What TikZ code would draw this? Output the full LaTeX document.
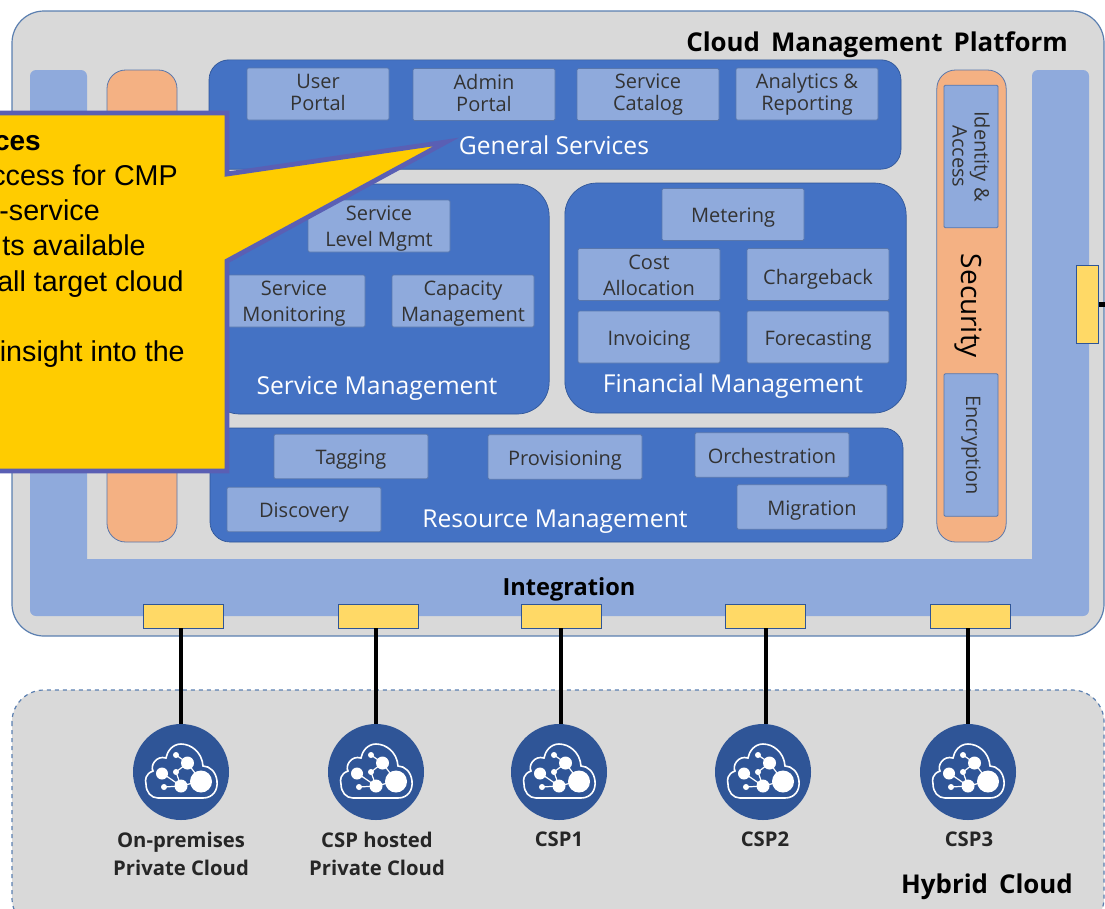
\documentclass[tikz,border=0pt]{standalone}
\usepackage{fontspec}
\setmainfont{Open Sans}
\newfontfamily\calloutfont{Liberation Sans}
\usepackage{tikz}
\usetikzlibrary{positioning}
\definecolor{frameblue}{HTML}{5B7FB0}
\definecolor{platformgray}{HTML}{D9D9D9}
\definecolor{bandblue}{HTML}{8FAADC}
\definecolor{groupblue}{HTML}{4472C4}
\definecolor{edgeblue}{HTML}{2F5597}
\definecolor{secorange}{HTML}{F4B183}
\definecolor{portyellow}{HTML}{FFD966}
\definecolor{calloutyellow}{HTML}{FFCC00}
\definecolor{calloutedge}{HTML}{5A5FB4}
\tikzset{
  group/.style={fill=groupblue, draw=edgeblue, line width=0.5pt, rounded corners=#1, inner sep=0pt},
  group/.default=15pt,
  item/.style={fill=bandblue, draw=edgeblue!80, line width=0.6pt, rounded corners=1pt, inner sep=0pt,
    minimum width=106.5pt, minimum height=39pt, align=center, text=black!80,
    font=\fontsize{15}{16.5}\selectfont},
  oneline/.style={text height=12.5pt, text depth=0pt},
  lowitem/.style={item, oneline, minimum width=115.5pt, minimum height=33.5pt},
  sideitem/.style={item, rotate=-90},
  title/.style={text=white, font=\fontsize{18.5}{20}\selectfont, inner sep=0pt},
  heading/.style={font=\fontsize{19.4}{21}\selectfont\bfseries, text=black, inner sep=0pt},
  port/.style={fill=portyellow, draw=edgeblue, line width=0.6pt, minimum width=60pt, minimum height=18pt, inner sep=0pt},
  wire/.style={line width=3.2pt, black},
  cloudcircle/.style={circle, fill=edgeblue, minimum size=72pt, inner sep=0pt},
  cloudname/.style={font=\fontsize{15.2}{21}\selectfont\bfseries, align=center, text=black!85, inner sep=0pt},
  calloutline/.style={font=\calloutfont\fontsize{21.5}{24}\selectfont, anchor=base east, inner sep=0pt},
  cloudicon/.pic={
    \draw[white, line width=1.2pt] (-23,26) -- (22,26) .. controls (32,26) and (37,18) .. (36,9)
      .. controls (35,0) and (29,-6) .. (22,-6) .. controls (21,-20) and (10,-28) .. (0,-28)
      .. controls (-9,-28) and (-14,-20) .. (-15,-14) .. controls (-25,-17) and (-31,-6) .. (-28,-1)
      .. controls (-36,2) and (-36,8) .. (-35,12) .. controls (-35,20) and (-30,26) .. (-23,26);
    \draw[white, line width=0.9pt] (-5,-17) -- (6.5,-9) -- (-5,0) -- (0,14) -- (-19,1) (-17,15) -- (0,14) (20,9) -- (0,14) (6.5,-9) -- (20,9);
    \fill[white] (20,9.5) circle (11);
    \fill[white] (6.5,-9) circle (6.5);
    \fill[white] (-19,1.5) circle (6);
    \fill[white] (0,14) circle (6.5);
    \fill[white] (-17,15) circle (3);
    \fill[white] (-5,-17) circle (3);
    \fill[white] (-5,0) circle (3);
  }
}
\begin{document}
\begin{tikzpicture}[x=0.75pt, y=-0.75pt]
  \useasboundingbox (0,0) rectangle (1105,908);
  % outer frames
  \draw[fill=platformgray, draw=frameblue, line width=0.9pt, rounded corners=24pt] (12,11) rectangle (1104,636);
  \draw[fill=platformgray, draw=frameblue, line width=0.9pt, dashed, rounded corners=24pt] (12,690) rectangle (1104,930);
  \fill[bandblue] (30,76) arc (180:270:6) -- (81,70) arc (270:360:6) -- (87,559) -- (1032,559) -- (1032,76) arc (180:270:6) -- (1083,70) arc (270:360:6) -- (1089,610) arc (0:90:6) -- (36,616) arc (90:180:6) -- cycle;
  \draw[fill=secorange, draw=edgeblue!80, line width=0.6pt, rounded corners=14pt] (107,70) rectangle (177,542);
  \node[draw=edgeblue!80, fill=secorange, line width=0.6pt, rounded corners=14pt, minimum width=52pt, minimum height=354pt, inner sep=0pt] (security) at (971.5,306) {};
  \node[rotate=-90, font=\fontsize{21}{23}\selectfont, inner sep=0pt] at (968,306) {Security};
  % service groups
  \node[group, minimum width=519pt, minimum height=82pt] (general) at (555,114.5) {};
  \node[group=24pt, minimum width=256pt, minimum height=172.5pt] (service) at (378.5,299) {};
  \node[group=24pt, minimum width=256pt, minimum height=172.5pt] (financial) at (735.5,298) {};
  \node[group, minimum width=519.75pt, minimum height=85.5pt] (resource) at (556.5,485) {};
  \node[title] at (554,145) {General Services};
  \node[title] at (377,388) {Service Management};
  \node[title] at (733,386) {Financial Management};
  \node[title] at (555,522) {Resource Management};
  \node[item, text depth=3pt] (user) at (318,94) {User\\Portal};
  \node[item, text depth=3pt] (admin) at (484,94.5) {Admin\\Portal};
  \node[item] (catalog) at (648,94.5) {Service\\Catalog};
  \node[item] (analytics) at (807,94) {Analytics \&\\Reporting};
  \node[item, text height=34.5pt] (level) at (379,226) {Service\\[3pt]Level Mgmt};
  \node[item, text height=34.5pt] (monitoring) at (294,301) {Service\\[3pt]Monitoring};
  \node[item, text height=34.5pt] (capacity) at (463,301) {Capacity\\[3pt]Management};
  \node[item, oneline] (metering) at (733,214.5) {Metering};
  \node[item, text height=32.3pt] (cost) at (649,274.5) {Cost\\[3pt]Allocation};
  \node[item, oneline, text height=15pt] (chargeback) at (818,274.5) {Chargeback};
  \node[item, oneline] (invoicing) at (649,337) {Invoicing};
  \node[item, oneline] (forecasting) at (818,337) {Forecasting};
  \node[lowitem] (tagging) at (351,456.5) {Tagging};
  \node[lowitem] (provisioning) at (565,457) {Provisioning};
  \node[lowitem] (orchestration) at (772,455) {Orchestration};
  \node[lowitem] (discovery) at (304,509.5) {Discovery};
  \node[lowitem, minimum width=112.5pt] (migration) at (812,507) {Migration};
  \node[sideitem, minimum width=107pt, minimum height=40.5pt] (identity) at (971,156.5) {Identity \&\\Access};
  \node[sideitem, minimum width=107pt, minimum height=40.5pt] (encryption) at (971,445) {Encryption};
  % headings
  \node[heading] at (877,45) {Cloud\, Management\, Platform};
  \node[heading] at (987,887) {Hybrid\, Cloud};
  \node[heading, font=\fontsize{17.7}{20}\selectfont\bfseries] at (569,589) {Integration};
  % ports and clouds
  \node[port] (portright) at (1087.5,304.5) [minimum width=17pt, minimum height=59pt] {};
  \coordinate (rightend) at (1105,304.5);
  \draw[wire] (portright.east) -- (rightend);
  \foreach \i/\px/\cx/\lx in {1/183/181/181,2/378/376/376,3/561/559/561,4/765.5/763/766,5/970/968/968}{
    \node[port] (port\i) at (\px,616) {};
    \node[cloudcircle] (cloud\i) at (\cx,772) {};
    \draw[wire] (\lx,0 |- port\i.south) -- (\lx,0 |- cloud\i.north);
    \pic at (cloud\i.center) {cloudicon};
  }
  \node[cloudname, anchor=north] (name1) at (181,832) {On-premises\\Private Cloud};
  \node[cloudname, anchor=north] (name2) at (377,832) {CSP hosted\\Private Cloud};
  \node[cloudname, anchor=north] (name3) at (559,832) {CSP1};
  \node[cloudname, anchor=north] (name4) at (765,832) {CSP2};
  \node[cloudname, anchor=north] (name5) at (969,832) {CSP3};
  % callout
  \draw[fill=calloutyellow, draw=calloutedge, line width=3.6pt, miter limit=10]
    (-10,113) -- (227,113) -- (227,174) -- (446,142) -- (227,261) -- (227,471) -- (-10,471) -- cycle;
  \node[calloutline, font=\calloutfont\fontsize{21}{24}\selectfont\bfseries] at (41,150) {ces};
  \node[calloutline] at (178,185) {ccess for CMP};
  \node[calloutline] at (100,220) {-service};
  \node[calloutline] at (146,255) {ts available};
  \node[calloutline] at (184,291) {all target cloud};
  \node[calloutline] at (185,361) {insight into the};
\end{tikzpicture}
\end{document}
